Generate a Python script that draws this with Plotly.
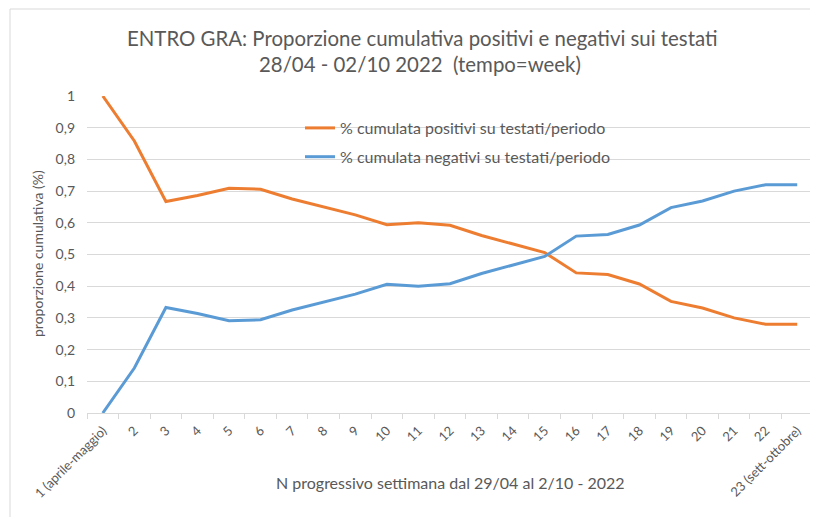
import plotly.graph_objects as go

categories = ["1 (aprile-maggio)"] + [str(i) for i in range(2, 23)] + ["23 (sett-ottobre)"]
positivi = [1.0, 0.858, 0.667, 0.686, 0.709, 0.706, 0.675, 0.650, 0.625, 0.594, 0.600, 0.592,
            0.560, 0.533, 0.506, 0.442, 0.437, 0.407, 0.352, 0.331, 0.300, 0.280, 0.280]
negativi = [0.0, 0.142, 0.333, 0.314, 0.291, 0.294, 0.325, 0.350, 0.375, 0.406, 0.400, 0.408,
            0.440, 0.467, 0.494, 0.558, 0.563, 0.593, 0.648, 0.669, 0.700, 0.720, 0.720]
yticks = [0, 0.1, 0.2, 0.3, 0.4, 0.5, 0.6, 0.7, 0.8, 0.9, 1]

FONT = "Lato"
GRAY = "#595959"
PW, PH = 726, 317


def px(sx):
    return (sx - 87) / PW


def py(sy):
    return (413 - sy) / PH


fig = go.Figure()
fig.add_trace(go.Scatter(x=categories, y=positivi, mode="lines",
                         name="% cumulata positivi su testati/periodo",
                         line=dict(color="#ED7D31", width=3), legendgroup="a"))
fig.add_trace(go.Scatter(x=categories, y=negativi, mode="lines",
                         name="% cumulata negativi su testati/periodo",
                         line=dict(color="#5B9BD5", width=3), legendgroup="b"))

fig.update_layout(
    width=810, height=509,
    margin=dict(l=79, r=5, t=88, b=104),
    paper_bgcolor="white", plot_bgcolor="white",
    separators=",.",
    font=dict(family=FONT, color=GRAY, size=13),
    showlegend=True,
    legend=dict(x=px(300), y=py(111), xanchor="left", yanchor="top", bgcolor="rgba(0,0,0,0)",
                font=dict(family=FONT, size=16, color=GRAY), tracegroupgap=5),
    xaxis=dict(type="category", tickangle=-45, showgrid=False, showline=True, automargin=False,
               linecolor="#d9d9d9", linewidth=1, ticks="outside", tickson="boundaries",
               ticklen=5, tickcolor="#d9d9d9", tickfont=dict(size=13, color=GRAY),
               ticklabelstandoff=4,
               range=[-0.5, len(categories) - 0.5], fixedrange=True),
    yaxis=dict(range=[0, 1], tickvals=yticks, showgrid=True, gridcolor="#d9d9d9", automargin=False,
               gridwidth=1, zeroline=False, showline=False, tickfont=dict(size=14, color=GRAY),
               ticklabelstandoff=11, tickformat="~r"),
)

fig.add_annotation(text="ENTRO GRA: Proporzione cumulativa positivi e negativi sui testati",
                   xref="paper", yref="paper", x=px(422), y=py(38), xanchor="center", yanchor="middle",
                   showarrow=False, font=dict(family=FONT, size=20.4, color=GRAY))
fig.add_annotation(text="28/04 - 02/10 2022  (tempo=week)",
                   xref="paper", yref="paper", x=px(420), y=py(64), xanchor="center", yanchor="middle",
                   showarrow=False, font=dict(family=FONT, size=20.4, color=GRAY))
fig.add_annotation(text="N progressivo settimana dal 29/04 al 2/10 - 2022", xref="paper", yref="paper",
                   x=px(451), y=py(482), xanchor="center", yanchor="middle",
                   showarrow=False, font=dict(family=FONT, size=16, color=GRAY))
fig.add_annotation(text="proporzione cumulativa (%)", xref="paper", yref="paper",
                   x=px(37), y=py(254), xanchor="center", yanchor="middle",
                   textangle=-90, showarrow=False, font=dict(family=FONT, size=14, color=GRAY))
fig.add_shape(type="rect", xref="paper", yref="paper", x0=px(10), x1=px(830),
              y0=py(530), y1=py(9), line=dict(color="#d9d9d9", width=1))

fig.write_html("out.html")
